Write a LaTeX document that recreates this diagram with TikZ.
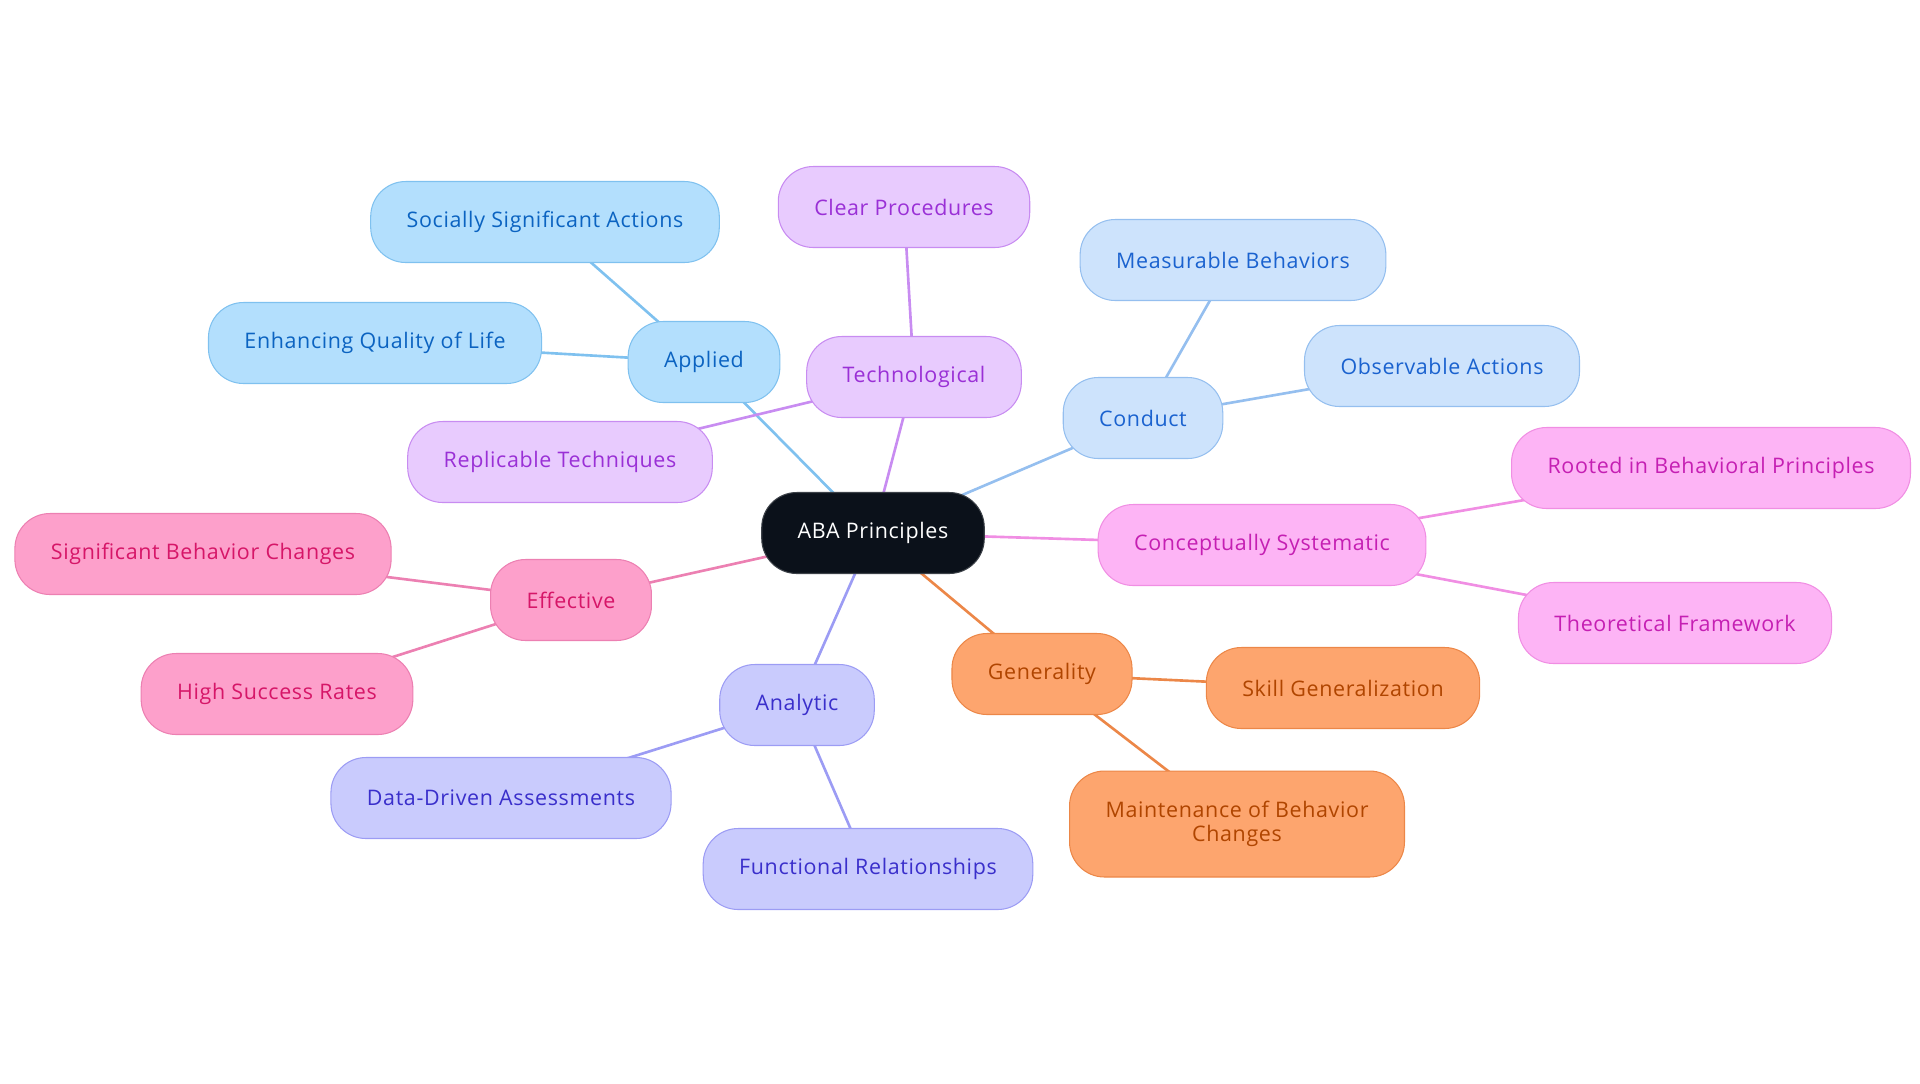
\documentclass[tikz,border=0pt]{standalone}
\usepackage{fontspec}
\setmainfont{Open Sans}[LetterSpace=3]
\usetikzlibrary{backgrounds}

\definecolor{appliedFill}{HTML}{B3DFFD}
\definecolor{appliedDraw}{HTML}{7FC1EF}
\definecolor{appliedText}{HTML}{0B63C1}
\definecolor{technoFill}{HTML}{E8CBFE}
\definecolor{technoDraw}{HTML}{C88CF1}
\definecolor{technoText}{HTML}{9A30D6}
\definecolor{conductFill}{HTML}{CDE3FC}
\definecolor{conductDraw}{HTML}{95BFEF}
\definecolor{conductText}{HTML}{1A62CF}
\definecolor{conceptFill}{HTML}{FDB4F5}
\definecolor{conceptDraw}{HTML}{F08EE3}
\definecolor{conceptText}{HTML}{C51FB3}
\definecolor{generalFill}{HTML}{FDA56E}
\definecolor{generalDraw}{HTML}{EC8748}
\definecolor{generalText}{HTML}{B04500}
\definecolor{analyticFill}{HTML}{C9CBFD}
\definecolor{analyticDraw}{HTML}{9C9CF4}
\definecolor{analyticText}{HTML}{3A2FCB}
\definecolor{effectFill}{HTML}{FDA0CB}
\definecolor{effectDraw}{HTML}{EC80B2}
\definecolor{effectText}{HTML}{D61668}
\definecolor{rootFill}{HTML}{0B111A}

\begin{document}
\begin{tikzpicture}[x=0.02cm, y=-0.02cm,
                pill/.style={
                  rounded corners=0.7cm, line width=0.6pt,
                  minimum height=1.62cm, inner xsep=0.72cm,
                  font=\fontsize{12.2}{14}\selectfont
                },
                rootpill/.style={pill, fill=rootFill, draw=rootFill!80!white, text=white},
                appliedpill/.style={pill, fill=appliedFill, draw=appliedDraw, text=appliedText},
                technopill/.style={pill, fill=technoFill, draw=technoDraw, text=technoText},
                conductpill/.style={pill, fill=conductFill, draw=conductDraw, text=conductText},
                conceptpill/.style={pill, fill=conceptFill, draw=conceptDraw, text=conceptText},
                generalpill/.style={pill, fill=generalFill, draw=generalDraw, text=generalText},
                analyticpill/.style={pill, fill=analyticFill, draw=analyticDraw, text=analyticText},
                effectpill/.style={pill, fill=effectFill, draw=effectDraw, text=effectText},
                link/.style={line width=1.5pt}
              ]
              \useasboundingbox (0,0) rectangle (1920,1083);

              % centre
              \node [rootpill] at (873,533) (aba) {ABA Principles};

              % branches
              \node [appliedpill] at (704,362) (applied) {Applied};
              \node [appliedpill] at (545,222) (socially) {Socially Significant Actions};
              \node [appliedpill] at (375,343) (enhancing) {Enhancing Quality of Life};

              \node [technopill] at (914,377) (techno) {Technological};
              \node [technopill] at (904,207) (clear) {Clear Procedures};
              \node [technopill] at (560,462) (replicable) {Replicable Techniques};

              \node [conductpill] at (1143,418) (conduct) {Conduct};
              \node [conductpill] at (1233,260) (measurable) {Measurable Behaviors};
              \node [conductpill] at (1442,366) (observable) {Observable Actions};

              \node [conceptpill] at (1262,545) (concept) {Conceptually Systematic};
              \node [conceptpill] at (1711,468) (rooted) {Rooted in Behavioral Principles};
              \node [conceptpill] at (1675,623) (theory) {Theoretical Framework};

              \node [generalpill] at (1042,674) (general) {Generality};
              \node [generalpill] at (1343,688) (skill) {Skill Generalization};
              \node [generalpill, minimum height=2.12cm, align=center] at (1237,824) (maintain) {Maintenance of Behavior\\Changes};

              \node [analyticpill] at (797,705) (analytic) {Analytic};
              \node [analyticpill] at (501,798) (datadriven) {Data-Driven Assessments};
              \node [analyticpill] at (868,869) (functional) {Functional Relationships};

              \node [effectpill] at (571,600) (effective) {Effective};
              \node [effectpill] at (203,554) (significant) {Significant Behavior Changes};
              \node [effectpill] at (277,694) (success) {High Success Rates};

              % connectors behind the pills
              \begin{scope}[on background layer]
                \draw [link, appliedDraw] (aba.center) -- (applied.center);
                \draw [link, appliedDraw] (applied.center) -- (socially.center);
                \draw [link, appliedDraw] (applied.center) -- (enhancing.center);
                \draw [link, technoDraw] (aba.center) -- (techno.center);
                \draw [link, technoDraw] (techno.center) -- (clear.center);
                \draw [link, technoDraw] (techno.center) -- (replicable.center);
                \draw [link, conductDraw] (aba.center) -- (conduct.center);
                \draw [link, conductDraw] (conduct.center) -- (measurable.center);
                \draw [link, conductDraw] (conduct.center) -- (observable.center);
                \draw [link, conceptDraw] (aba.center) -- (concept.center);
                \draw [link, conceptDraw] (concept.center) -- (rooted.center);
                \draw [link, conceptDraw] (concept.center) -- (theory.center);
                \draw [link, generalDraw] (aba.center) -- (general.center);
                \draw [link, generalDraw] (general.center) -- (skill.center);
                \draw [link, generalDraw] (general.center) -- (maintain.center);
                \draw [link, analyticDraw] (aba.center) -- (analytic.center);
                \draw [link, analyticDraw] (analytic.center) -- (datadriven.center);
                \draw [link, analyticDraw] (analytic.center) -- (functional.center);
                \draw [link, effectDraw] (aba.center) -- (effective.center);
                \draw [link, effectDraw] (effective.center) -- (significant.center);
                \draw [link, effectDraw] (effective.center) -- (success.center);
              \end{scope}
            \end{tikzpicture}
\end{document}
